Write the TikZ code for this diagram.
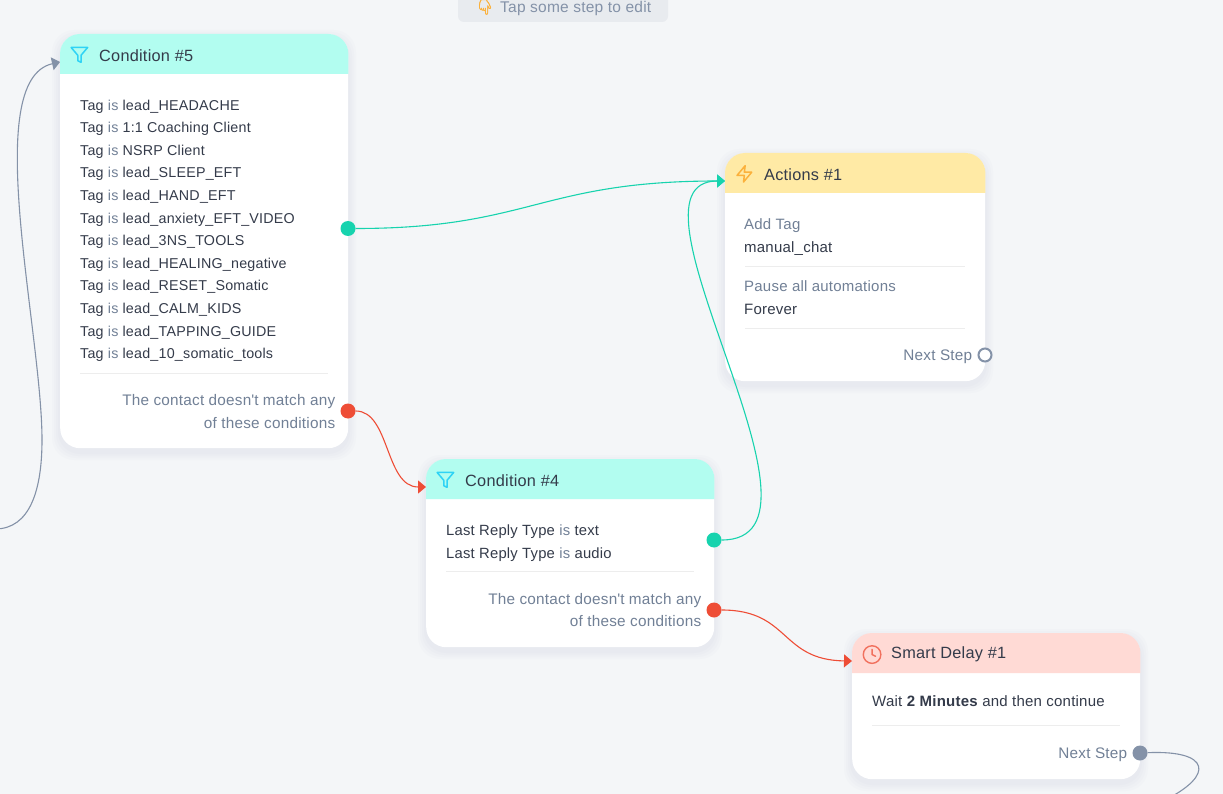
\documentclass[tikz,border=0pt]{standalone}
\usepackage{fontspec}
\setmainfont[LetterSpace=1.5]{Liberation Sans}
\newfontfamily\emojifont[FakeBold=2]{Noto Emoji}
\usetikzlibrary{arrows.meta,calc}
\definecolor{canvas}{HTML}{F4F6F8}
\definecolor{mint}{HTML}{B2FDF0}
\definecolor{butter}{HTML}{FFEAA5}
\definecolor{blush}{HTML}{FFDAD5}
\definecolor{inkdark}{HTML}{343B4A}
\definecolor{inkgray}{HTML}{718096}
\definecolor{okgreen}{HTML}{17D3AE}
\definecolor{noredd}{HTML}{EE4D36}
\definecolor{slategray}{HTML}{8492A8}
\definecolor{funnelblue}{HTML}{2FD3F5}
\definecolor{boltorange}{HTML}{FBB13C}
\tikzset{
    card/.style={rectangle,fill=white,rounded corners=20pt,inner sep=0pt,anchor=north west},
    cardglow/.style={fill=slategray,opacity=.022,rounded corners=22pt},
    steptitle/.style={inner sep=0pt,anchor=west,text=inkdark,font=\fontsize{16.3}{19}\selectfont},
    steptext/.style={inner sep=0pt,align=left,anchor=north west,text=inkdark,font=\fontsize{15}{22.6}\selectfont},
    taglist/.style={steptext,font=\fontsize{14.3}{22.6}\selectfont},
    stepnote/.style={inner sep=0pt,align=right,anchor=north east,text=inkgray,font=\fontsize{15.3}{22.6}\selectfont},
    divider/.style={draw=black!7,line width=.7pt},
    port/.style={circle,inner sep=0pt,minimum size=15pt},
    wire/.style={line width=1.1pt,-{Triangle[length=8pt,width=13pt]}},
    plainwire/.style={line width=1.1pt},
    funnelicon/.pic={\draw[draw=funnelblue,line width=1.5pt,line join=round] (22,3) -- (2,3) -- (10,12.46) -- (10,19) -- (14,21) -- (14,12.46) -- cycle;},
    bolticon/.pic={\draw[draw=boltorange,line width=1.5pt,line join=round] (13,2) -- (3,14) -- (12,14) -- (11,22) -- (21,10) -- (12,10) -- cycle;},
    clockicon/.pic={\draw[draw=noredd!80!white,line width=1.4pt,line cap=round,line join=round] (12,12) circle (10) (12,6) -- (12,12) -- (16,14);},
}
\newcommand\stepcard[9]{
    \foreach \s in {8,6,4,2} {\fill[cardglow] (#2-\s,#3-\s+4) rectangle ++(#4+2*\s,#5+2*\s);}
    \node(#1)[card,minimum width=#4pt,minimum height=#5pt] at (#2,#3) {};
    \fill[#6] ([yshift=-40pt]#1.north west) [rounded corners=20pt] -- (#1.north west) -- (#1.north east) [sharp corners] -- ([yshift=-40pt]#1.north east) -- cycle;
    \pic[scale=#9] at ([shift={(9.5pt,-11pt)}]#1.north west) {#8};
    \node(#1title)[steptitle] at ([shift={(39pt,-21.5pt)}]#1.north west) {#7};
    \coordinate(#1in) at ([yshift=-28pt]#1.north west);
}
\newcommand\carddivider[2]{\draw[divider] ([shift={(20pt,-#2pt)}]#1.north west) -- ([shift={(-20pt,-#2pt)}]#1.north east);}
\newcommand\tagis[1]{Tag {\color{inkgray}is} #1}
\newcommand\replyis[1]{Last Reply Type {\color{inkgray}is} #1}

\begin{document}
\begin{tikzpicture}[x=1pt,y=-1pt]
    \clip (0,0) rectangle (1223,794);
    \fill[canvas] (0,0) rectangle (1223,794);

    % hint on top
    \node(hint)[fill=slategray!11!canvas,rounded corners=6pt,inner sep=0pt,minimum width=210pt,minimum height=44pt] at (563,0) {};
    \node(hinticon)[inner sep=0pt,text=boltorange,font=\emojifont\fontsize{15}{18}\selectfont] at (485,7) {^^^^^^01f447};
    \node(hinttext)[inner sep=0pt,anchor=west,text=slategray,font=\fontsize{15.5}{18}\selectfont] at (500,8) {Tap some step to edit};

    \stepcard{cond5}{60}{34}{288}{414}{mint}{Condition \#5}{funnelicon}{.825}
    \stepcard{actions}{725}{153}{260}{228}{butter}{Actions \#1}{bolticon}{.82}
    \stepcard{cond4}{426}{459}{288}{188}{mint}{Condition \#4}{funnelicon}{.825}
    \stepcard{delay}{852}{633}{288}{146}{blush}{Smart Delay \#1}{clockicon}{.88}

    % condition 5
    \node(cond5list)[taglist] at ([shift={(20pt,-65.5pt)}]cond5.north west) {
        \tagis{lead\_HEADACHE}\\ \tagis{1:1 Coaching Client}\\ \tagis{NSRP Client}\\
        \tagis{lead\_SLEEP\_EFT}\\ \tagis{lead\_HAND\_EFT}\\ \tagis{lead\_anxiety\_EFT\_VIDEO}\\
        \tagis{lead\_3NS\_TOOLS}\\ \tagis{lead\_HEALING\_negative}\\ \tagis{lead\_RESET\_Somatic}\\
        \tagis{lead\_CALM\_KIDS}\\ \tagis{lead\_TAPPING\_GUIDE}\\ \tagis{lead\_10\_somatic\_tools}};
    \carddivider{cond5}{339}
    \node(cond5note)[stepnote] at ([shift={(-13pt,-360.5pt)}]cond5.north east) {The contact doesn\textquotesingle t match any\\of these conditions};

    % actions
    \node(addtag)[steptext] at ([shift={(19pt,-65.5pt)}]actions.north west) {{\color{inkgray}Add Tag}\\manual\_chat};
    \carddivider{actions}{113}
    \node(pauseall)[steptext] at ([shift={(19pt,-127.5pt)}]actions.north west) {{\color{inkgray}Pause all automations}\\Forever};
    \carddivider{actions}{175}
    \node(actionsnext)[stepnote] at ([shift={(-13pt,-196.5pt)}]actions.north east) {Next Step};

    % condition 4
    \node(cond4list)[steptext,font=\fontsize{14.8}{22.6}\selectfont] at ([shift={(20pt,-65.5pt)}]cond4.north west) {\replyis{text}\\ \replyis{audio}};
    \carddivider{cond4}{112}
    \node(cond4note)[stepnote] at ([shift={(-13pt,-134pt)}]cond4.north east) {The contact doesn\textquotesingle t match any\\of these conditions};

    % delay
    \node(delaytext)[steptext] at ([shift={(20pt,-62pt)}]delay.north west) {Wait \textbf{2 Minutes} and then continue};
    \carddivider{delay}{92}
    \node(delaynext)[stepnote] at ([shift={(-13pt,-114.5pt)}]delay.north east) {Next Step};

    % ports
    \node(cond5yes)[port,fill=okgreen] at (348,228.5) {};
    \node(cond5no)[port,fill=noredd] at (348,411) {};
    \node(cond4yes)[port,fill=okgreen] at (714,540) {};
    \node(cond4no)[port,fill=noredd] at (714,610) {};
    \node(actionsout)[port,minimum size=13pt,draw=slategray,line width=2pt,fill=white] at (985,355) {};
    \node(delayport)[port,fill=slategray] at (1140,753) {};

    \coordinate(loopin) at (-5,529);
    \coordinate(loopbend) at (42,440);
    \coordinate(delayout) at (1165,800);

    \draw[wire,okgreen] (cond5yes) .. controls (530,228.5) and (540,181) .. (actionsin);
    \draw[wire,okgreen] (cond4yes) .. controls (852,540) and (608,181) .. (actionsin);
    \draw[wire,noredd] (cond5no) .. controls (390,411) and (385,487) .. (cond4in);
    \draw[wire,noredd] (cond4no) .. controls (790,610) and (780,660) .. (delayin);
    \draw[plainwire,slategray] (loopin) .. controls (30,529) and (42,490) .. (loopbend);
    \draw[wire,slategray] (loopbend) .. controls (42,330) and (-20,80) .. (cond5in);
    \draw[plainwire,slategray] (delayport) .. controls (1210,750) and (1215,775) .. (delayout);
\end{tikzpicture}
\end{document}
